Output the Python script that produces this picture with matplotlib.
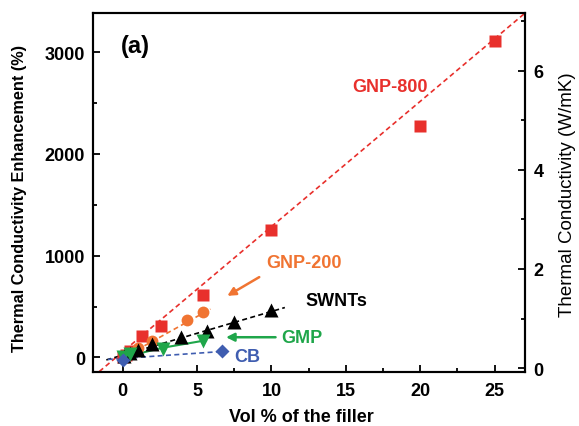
import numpy as np
import matplotlib
matplotlib.use("Agg")
from matplotlib import pyplot as plt
from matplotlib.ticker import MultipleLocator

plt.rcParams['font.family'] = ['Liberation Sans', 'DejaVu Sans']
plt.rcParams['font.weight'] = 'bold'

# data (vol %, enhancement %)
gnp800_x = [0.0, 0.25, 0.5, 1.3, 2.6, 5.4, 10.0, 20.0, 25.0]
gnp800_y = [0, 25, 65, 210, 312, 610, 1255, 2275, 3115]
gnp200_x = [0.25, 0.5, 1.0, 2.0, 4.3, 5.4]
gnp200_y = [15, 40, 95, 160, 370, 445]
swnt_x = [0.1, 0.5, 1.0, 2.0, 3.9, 5.7, 7.5, 10.0]
swnt_y = [10, 45, 75, 135, 205, 262, 345, 470]
gmp_x = [0.0, 0.5, 2.7, 5.4]
gmp_y = [0, 30, 85, 160]
cb_x = [0.0, 6.7]
cb_y = [-25, 58]

# fit lines (end points)
gnp800_fit_x = [-2.0, 27.05]
gnp800_fit_y = [-192, 3386]
gnp200_fit_x = [0.0, 5.9]
gnp200_fit_y = [-5, 475]
swnt_fit_x = [-1.1, 10.9]
swnt_fit_y = [-25, 490]
gmp_fit_x = [0.0, 2.7, 5.6]
gmp_fit_y = [0, 95, 168]
cb_fit_x = [-1.0, 6.7]
cb_fit_y = [-20, 58]

red = '#e8302c'
orange = '#f07432'
green = '#1fa64a'
blue = '#3f5db0'

fig = plt.figure(figsize=(5.79, 4.27), dpi=100)
ax = fig.add_axes([0.161, 0.1257, 0.746, 0.8415])

ax.plot(gnp800_fit_x, gnp800_fit_y, '--', color=red, lw=1.2, dashes=(3, 2))
ax.plot(gnp200_fit_x, gnp200_fit_y, '--', color=orange, lw=1.2, dashes=(3, 2))
ax.plot(swnt_fit_x, swnt_fit_y, '--', color='black', lw=1.2, dashes=(3, 2))
ax.plot(gmp_fit_x, gmp_fit_y, '-', color=green, lw=1.5)
ax.plot(cb_fit_x, cb_fit_y, '--', color=blue, lw=1.2, dashes=(3, 2))

ax.plot(gnp800_x, gnp800_y, 's', color=red, ms=8, mec='none', zorder=3)
ax.plot(gnp200_x, gnp200_y, 'o', color=orange, ms=8.5, mec='none', zorder=3)
ax.plot(swnt_x, swnt_y, '^', color='black', ms=10, mec='none', zorder=4)
ax.plot(gmp_x, gmp_y, 'v', color=green, ms=10, mec='none', zorder=4)
ax.plot(cb_x, cb_y, 'D', color=blue, ms=7, mec='none', zorder=4)

ax.set_xlim(-1.98, 27.05)
ax.set_ylim(-147, 3386)
ax.xaxis.set_major_locator(MultipleLocator(5))
ax.xaxis.set_minor_locator(MultipleLocator(2.5))
ax.yaxis.set_major_locator(MultipleLocator(1000))
ax.yaxis.set_minor_locator(MultipleLocator(500))
ax.tick_params(which='both', direction='in', width=1.3, labelsize=13)
ax.tick_params(which='major', length=5)
ax.tick_params(which='minor', length=3)
ax.tick_params(axis='x', pad=7)
ax.tick_params(axis='y', pad=6)
for s in ax.spines.values():
    s.set_linewidth(1.5)

ax.set_xlabel('Vol % of the filler', fontsize=13, fontweight='bold', va='center')
ax.xaxis.set_label_coords(0.481, -0.124)
ax.set_ylabel('Thermal Conductivity Enhancement (%)', fontsize=11.7,
              fontweight='bold', va='center')
ax.yaxis.set_label_coords(-0.17, 0.487)

ax2 = ax.twinx()
ax2.set_ylim(-0.087, 7.17)
ax2.yaxis.set_major_locator(MultipleLocator(2))
ax2.yaxis.set_minor_locator(MultipleLocator(1))
ax2.tick_params(which='both', direction='in', width=1.3, labelsize=13, pad=6)
ax2.tick_params(which='major', length=5)
ax2.tick_params(which='minor', length=3)
ax2.set_ylabel('Thermal Conductivity (W/mK)', fontsize=13.5,
               fontweight='normal', va='center')
ax2.yaxis.set_label_coords(1.099, 0.497)
for s in ax2.spines.values():
    s.set_linewidth(1.5)

ax.text(0.82, 3065, '(a)', fontsize=17, fontweight='bold', ha='center', va='center')
ax.text(17.97, 2667, 'GNP-800', color=red, fontsize=13, fontweight='bold', ha='center', va='center')
ax.text(12.19, 935, 'GNP-200', color=orange, fontsize=13, fontweight='bold', ha='center', va='center')
ax.text(14.33, 557, 'SWNTs', color='black', fontsize=13, fontweight='bold', ha='center', va='center')
ax.text(12.07, 198, 'GMP', color=green, fontsize=13, fontweight='bold', ha='center', va='center')
ax.text(8.39, 7, 'CB', color=blue, fontsize=13, fontweight='bold', ha='center', va='center')

ax.annotate('', xy=(6.87, 591), xytext=(9.34, 803),
            arrowprops=dict(arrowstyle='-|>', color=orange, lw=1.8, mutation_scale=12))
ax.annotate('', xy=(6.76, 198), xytext=(10.46, 198),
            arrowprops=dict(arrowstyle='-|>', color=green, lw=1.8, mutation_scale=12))

fig.savefig('out.png', dpi=100)
